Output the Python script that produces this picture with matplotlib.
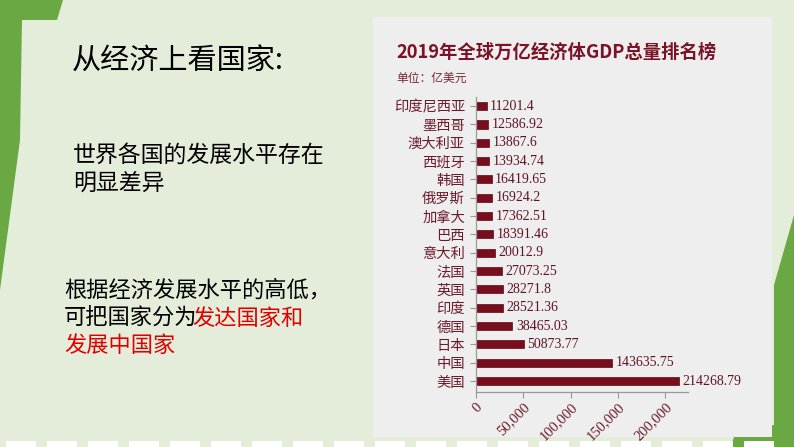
import matplotlib.pyplot as plt
from matplotlib.patches import Polygon, Rectangle
from matplotlib.ticker import FuncFormatter

plt.rcParams["font.family"] = ["Noto Sans CJK SC", "DejaVu Sans"]

# 2019 GDP, 100 million USD (bottom to top)
countries = ["美国", "中国", "日本", "德国", "印度", "英国", "法国", "意大利",
             "巴西", "加拿大", "俄罗斯", "韩国", "西班牙", "澳大利亚", "墨西哥", "印度尼西亚"]
gdp = [214268.79, 143635.75, 50873.77, 38465.03, 28521.36, 28271.8, 27073.25, 20012.9,
       18391.46, 17362.51, 16924.2, 16419.65, 13934.74, 13867.6, 12586.92, 11201.4]
x_ticks = [0, 50000, 100000, 150000, 200000]

W, H = 794, 447
fig = plt.figure(figsize=(W / 100, H / 100), dpi=100)
fig.patch.set_facecolor("#e3edda")

# slide decoration, drawn in pixel coordinates
bg = fig.add_axes([0, 0, 1, 1])
bg.set_xlim(0, W)
bg.set_ylim(H, 0)
bg.axis("off")
green = "#6aa843"
bg.add_patch(Polygon([(0, 0), (63, 0), (57, 20), (22, 20), (20, 140), (0, 290)],
                     closed=True, color=green, lw=0))
bg.add_patch(Polygon([(794, 215), (774, 285), (774, 425), (737, 430), (730, 447), (794, 447)],
                     closed=True, color=green, lw=0))
for x0 in range(0, 740, 41):
    bg.add_patch(Rectangle((x0 + 6, 441), 30, 6, color="white", lw=0))
bg.add_patch(Rectangle((373, 17), 399, 420, color="#efeeee", lw=0))

# chart title
dark_red = "#7a1228"
bg.text(396, 52, "2019年全球万亿经济体GDP总量排名榜", fontsize=13.2, fontweight="bold",
        color=dark_red, va="center", ha="left")
bg.text(396, 78, "单位：亿美元", fontsize=8.5, color="#7a2535", va="center", ha="left")

# left-hand slide text
bg.text(72, 62, "从经济上看国家:", fontsize=21, color="black", va="center", ha="left")
bg.text(73, 155, "世界各国的发展水平存在", fontsize=16.5, color="black", va="center", ha="left")
bg.text(73, 183, "明显差异", fontsize=16.5, color="black", va="center", ha="left")
bg.text(64, 290, "根据经济发展水平的高低，", fontsize=16, color="black", va="center", ha="left")
t = bg.text(64, 318, "可把国家分为", fontsize=16, color="black", va="center", ha="left")
bg.annotate("发达国家和", xy=(1, 0), xycoords=t, xytext=(-4, 0), textcoords="offset points",
            fontsize=16, color="#e00000", va="bottom", ha="left")
bg.text(64, 345, "发展中国家", fontsize=16, color="#e00000", va="center", ha="left")

# bar chart
left, right, top, bottom = 476, 688, 97, 392
ax = fig.add_axes([left / W, 1 - bottom / H, (right - left) / W, (bottom - top) / H])
ax.patch.set_alpha(0)
pos = range(len(countries))
bars = ax.barh(pos, gdp, height=0.44, color="#780e1d", edgecolor="#5a0812", lw=0.5)
ax.bar_label(bars, labels=[str(v) for v in gdp], padding=2.5, fontsize=10,
             family="Liberation Serif", color="#5e1424")
ax.set_xlim(0, 224000)
ax.set_ylim(-0.6, 15.5)
ax.set_yticks(list(pos))
ax.set_yticklabels(countries, fontsize=10.3, color="#6b1a2a")
ax.set_xticks(x_ticks)
ax.xaxis.set_major_formatter(FuncFormatter(lambda v, p: f"{int(v):,}"))
for lab in ax.get_xticklabels():
    lab.set_rotation(45)
    lab.set_ha("right")
    lab.set_rotation_mode("anchor")
    lab.set_family("Liberation Serif")
    lab.set_fontsize(10.5)
    lab.set_color("#6b1a2a")
ax.tick_params(axis="both", colors="#999999", length=4, width=0.8)
ax.tick_params(axis="y", labelcolor="#6b1a2a", pad=4)
ax.tick_params(axis="x", labelcolor="#6b1a2a", pad=2)
for s in ["top", "right"]:
    ax.spines[s].set_visible(False)
for s in ["left", "bottom"]:
    ax.spines[s].set_color("#999999")
    ax.spines[s].set_linewidth(0.9)

fig.savefig("out.png", dpi=100)
